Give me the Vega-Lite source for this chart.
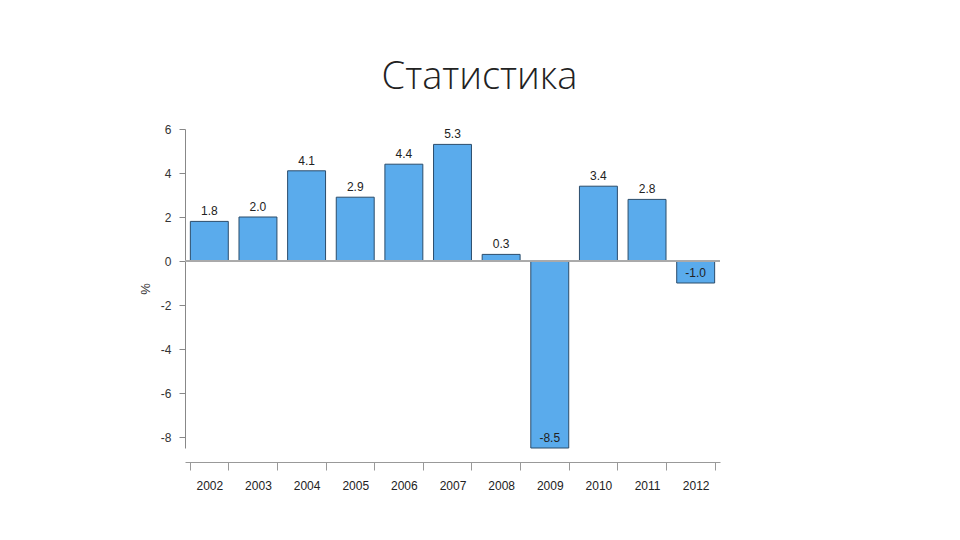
{
  "$schema": "https://vega.github.io/schema/vega-lite/v6.json",
  "autosize": "none",
  "padding": {"left": 185, "top": 129, "right": 240, "bottom": 92},
  "width": 535,
  "height": 319,
  "background": "white",
  "title": {
    "text": "Статистика",
    "font": "Open Sans",
    "fontSize": 38,
    "fontWeight": 300,
    "color": "#222",
    "anchor": "middle",
    "frame": "group",
    "dx": 27,
    "offset": 26
  },
  "config": {
    "view": {"stroke": null},
    "locale": {
      "number": {"decimal": ".", "thousands": ",", "grouping": [3], "currency": ["$", ""], "minus": "-"}
    }
  },
  "data": {
    "values": [
      {"year": "2002", "value": 1.8},
      {"year": "2003", "value": 2.0},
      {"year": "2004", "value": 4.1},
      {"year": "2005", "value": 2.9},
      {"year": "2006", "value": 4.4},
      {"year": "2007", "value": 5.3},
      {"year": "2008", "value": 0.3},
      {"year": "2009", "value": -8.5},
      {"year": "2010", "value": 3.4},
      {"year": "2011", "value": 2.8},
      {"year": "2012", "value": -1.0}
    ]
  },
  "encoding": {
    "x": {
      "field": "year",
      "type": "nominal",
      "sort": null,
      "scale": {"paddingInner": 0.22, "paddingOuter": 0.11},
      "axis": {
        "title": null,
        "labelAngle": 0,
        "offset": 14,
        "tickBand": "extent",
        "tickSize": 8,
        "labelPadding": 10,
        "domainColor": "#999",
        "tickColor": "#999",
        "labelColor": "#222",
        "labelFont": "Liberation Sans",
        "labelFontSize": 12
      }
    },
    "y": {
      "field": "value",
      "type": "quantitative",
      "scale": {"domain": [-8.5, 6], "nice": false, "zero": false},
      "axis": {
        "title": "%",
        "values": [-8, -6, -4, -2, 0, 2, 4, 6],
        "grid": false,
        "tickSize": 6,
        "labelPadding": 8,
        "domainColor": "#888",
        "tickColor": "#888",
        "labelColor": "#333",
        "labelFont": "Liberation Sans",
        "labelFontSize": 12,
        "titleFont": "Liberation Sans",
        "titleFontSize": 13,
        "titleFontWeight": "normal",
        "titleColor": "#333",
        "titlePadding": 8
      }
    }
  },
  "layer": [
    {
      "mark": {"type": "bar", "color": "#5aabec", "stroke": "#2b4c6b", "strokeWidth": 1}
    },
    {
      "mark": {"type": "rule", "color": "#aaa", "strokeWidth": 1},
      "encoding": {"y": {"datum": 0}, "x": {}}
    },
    {
      "mark": {"type": "text", "baseline": "bottom", "dy": -3, "font": "Liberation Sans", "fontSize": 12, "color": "#222"},
      "encoding": {"text": {"field": "value", "type": "quantitative", "format": ".1f"}}
    }
  ]
}
